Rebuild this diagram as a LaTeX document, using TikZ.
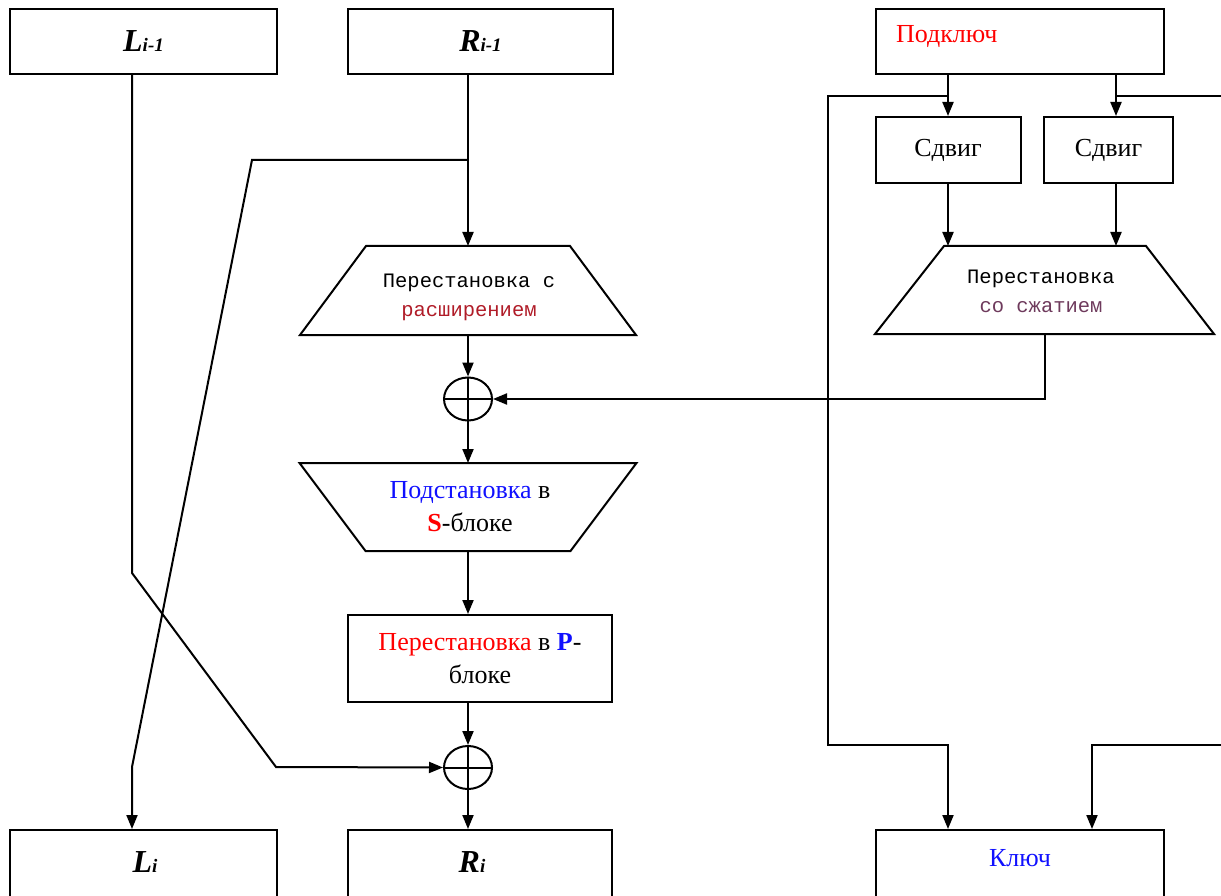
\documentclass[tikz,border=0pt]{standalone}
\usepackage{fontspec}
\setmainfont{Liberation Serif}
\newfontfamily\mymono{Liberation Mono}
\usetikzlibrary{arrows.meta,shapes.geometric}
\definecolor{kred}{HTML}{FF0000}
\definecolor{kblue}{HTML}{1010FF}
\definecolor{kdred}{HTML}{B01C28}
\definecolor{kplum}{HTML}{6E3A5C}
\newcommand{\bigL}[2]{{\fontsize{32}{36}\selectfont\bfseries\itshape #1}{\fontsize{19}{22}\selectfont\bfseries\itshape #2}}
\begin{document}
\begin{tikzpicture}[x=1pt,y=-1pt,line width=2pt,
  rect/.style 2 args={draw,rectangle,minimum width=#1,minimum height=#2,inner sep=0pt},
  bbox/.style 2 args={rectangle,minimum width=#1,minimum height=#2,inner sep=0pt},
  xor/.style={draw,ellipse,minimum width=48pt,minimum height=43pt,inner sep=0pt},
  arr/.style={-{Triangle[length=14pt,width=11pt]}},
  txt/.style={font=\fontsize{26}{33}\selectfont,align=center,inner sep=0pt},
  mono/.style={font=\mymono\fontsize{20.5}{29}\selectfont,align=center,inner sep=0pt}]
\clip (0,0) rectangle (1221,896);
% boxes
\node[rect={267pt}{65pt}] (Lprev) at (143.5,41.5) {\bigL{L}{i-1}};
\node[rect={265pt}{65pt}] (Rprev) at (480.5,41.5) {\bigL{R}{i-1}};
\node[rect={288pt}{65pt}] (Podk) at (1020,41.5) {};
\node[txt,anchor=west,text=kred] (podktxt) at (895,37) {Подключ};
\node[rect={145pt}{66pt},txt] (Sdv1) at (948,150) {Сдвиг};
\node[rect={129pt}{66pt},txt] (Sdv2) at (1108.5,150) {Сдвиг};
\node[rect={264pt}{87pt},txt] (Pbox) at (480,658.5) {\textcolor{kred}{Перестановка} в \textcolor{kblue}{\bfseries P}-\\блоке};
\node[rect={267pt}{70pt}] (Li) at (143.5,865) {};
\node[rect={264pt}{70pt}] (Ri) at (480,865) {};
\node[rect={288pt}{70pt}] (Key) at (1020,865) {};
\node[inner sep=0pt] (litxt) at (145,862) {\bigL{L}{i}};
\node[inner sep=0pt] (ritxt) at (472,862) {\bigL{R}{i}};
\node[txt,text=kblue] (keytxt) at (1020,858) {Ключ};
% trapezoids
\node[bbox={334pt}{87pt}] (t1) at (468,290.5) {};
\draw ([xshift=66pt]t1.north west) -- ([xshift=-66pt]t1.north east) -- (t1.south east) -- (t1.south west) -- cycle;
\node[mono] (t1txt) at (469,297) {Перестановка с\\\textcolor{kdred}{расширением}};
\node[bbox={335pt}{86pt}] (t2) at (468,507) {};
\draw (t2.north west) -- (t2.north east) -- ([xshift=-66pt]t2.south east) -- ([xshift=66pt]t2.south west) -- cycle;
\node[txt] (t2txt) at (470,507) {\textcolor{kblue}{Подстановка} в\\\textcolor{kred}{\bfseries S}-блоке};
\node[bbox={337pt}{86pt}] (t3) at (1044.5,290) {};
\draw ([xshift=69pt]t3.north west) -- ([xshift=-68pt]t3.north east) -- (t3.south east) -- (t3.south west) -- cycle;
\node[mono] (t3txt) at (1041,291) {Перестановка\\\textcolor{kplum}{со сжатием}};
% xors
\node[xor] (x1) at (468,399) {};
\draw (x1.north) -- (x1.south) (x1.west) -- (x1.east);
\node[xor] (x2) at (468,767.5) {};
\draw (x2.north) -- (x2.south) (x2.west) -- (x2.east);
% coordinates
\coordinate (br) at (467,160);
\coordinate (k1) at (948,96);
\coordinate (k2) at (1116,96);
\coordinate (k3) at (1092,745);
% main path
\draw[arr] (t1.north |- Rprev.south) -- (t1.north);
\draw[arr] (br) -- (252,160) -- (132,767) -- ([xshift=-11.5pt]Li.north);
\draw[arr] (t1.south) -- (x1.north);
\draw[arr] (x1.south) -- (t2.north);
\draw[arr] (t2.south) -- (t2.south |- Pbox.north);
\draw[arr] (x2.north |- Pbox.south) -- (x2.north);
\draw[arr] (x2.south) -- (x2.south |- Ri.north);
\draw[arr] ([xshift=-11.5pt]Lprev.south) -- (132,573) -- (276,767) -- (x2.west);
% key path
\draw[arr] (Podk.south -| Sdv1.north) -- (Sdv1.north);
\draw[arr] (Podk.south -| k2) -- (Sdv2.north -| k2);
\draw (k2) -- (1230,96);
\draw[arr] (k1) -- (828,96) -- (828,745) -- (948,745) -- (Key.north -| k1);
\draw[arr] (1230,745) -- (k3) -- (k3 |- Key.north);
\draw[arr] (Sdv1.south) -- (Sdv1.south |- t3.north);
\draw[arr] (Sdv2.south -| k2) -- (t3.north -| k2);
\draw[arr] (t3.south) -- (t3.south |- x1.east) -- (x1.east);
\end{tikzpicture}
\end{document}
